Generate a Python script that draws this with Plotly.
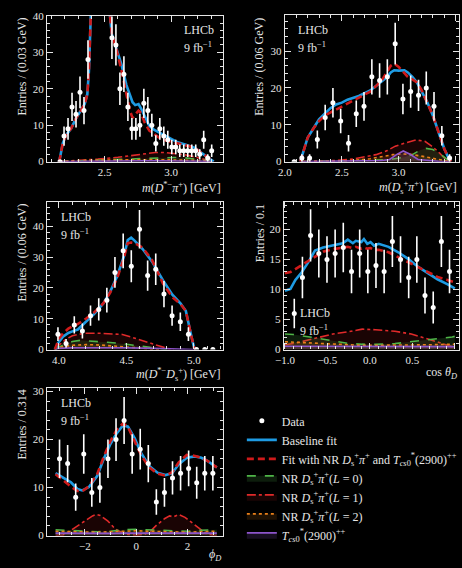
import numpy as np
import plotly.graph_objects as go

W, H = 462, 568
FONT = "Liberation Serif"
FG = "#e6e6e6"

# ---------------- Panel 1: m(D*- pi+) ----------------
p1_bins = [2.165, 2.195, 2.225, 2.255, 2.285, 2.315, 2.345, 2.375, 2.405, 2.435, 2.465, 2.495, 2.525,
           2.555, 2.585, 2.615, 2.645, 2.675, 2.705, 2.735, 2.765, 2.795, 2.825, 2.855, 2.885, 2.915,
           2.945, 2.975, 3.005, 3.035, 3.065, 3.095, 3.125, 3.155, 3.185, 3.215, 3.245, 3.275, 3.305]
p1_data = [0, 7, 9, 15, 13, 19, 14, 28, 48, 75, 95, 70, 50,
           34, 32, 20, 24, 15, 9, 9, 10, 16, 14, 10, 5, 9,
           7, 6, 4, 4, 3, 3, 3, 3, 3, 2, 6, 1, 3]
p1_fit_x = [2.155, 2.162, 2.186, 2.211, 2.248, 2.284, 2.321, 2.35, 2.37, 2.382, 2.395, 2.42, 2.45, 2.48,
            2.51, 2.535, 2.554, 2.591, 2.627, 2.664, 2.69, 2.71, 2.73, 2.755, 2.775, 2.80, 2.836, 2.87,
            2.909, 2.96, 3.007, 3.05, 3.105, 3.15, 3.179, 3.228, 3.277, 3.30, 3.314, 3.32]
p1_base = [0, 0.6, 5.1, 7.3, 9.1, 11.8, 14.0, 15.8, 18.5, 24.8, 39, 90, 120, 100,
           65, 42, 35, 31, 26.6, 21, 18, 16.3, 15.5, 15.8, 14.5, 12.5, 9.8, 8.8,
           8.0, 7.0, 6.0, 5.3, 4.7, 4.2, 3.8, 2.4, 1.0, 0.5, 0.2, 0]
p1_alt = [0, 0.6, 5.1, 7.3, 9.1, 11.8, 14.0, 15.8, 18.5, 24.8, 39, 90, 120, 100,
          65, 42, 35, 30.5, 25, 19, 14, 12, 12.8, 14, 13.3, 10.8, 8.5, 7.6,
          6.6, 5.8, 5.4, 5.0, 4.6, 4.1, 3.7, 2.4, 1.0, 0.5, 0.2, 0]
p1_comp_x = [2.16, 2.3, 2.45, 2.6, 2.7, 2.8, 2.88, 2.95, 3.02, 3.1, 3.18, 3.25, 3.31]
p1_L0 = [0, 0.2, 0.4, 0.6, 0.8, 1.0, 1.1, 1.15, 1.15, 1.05, 0.8, 0.4, 0]
p1_L1 = [0, 0.3, 0.7, 1.2, 1.7, 2.2, 2.5, 2.5, 2.3, 1.9, 1.3, 0.6, 0]
p1_L2 = [0, 0.3, 0.4, 0.5, 0.5, 0.55, 0.55, 0.5, 0.5, 0.45, 0.35, 0.2, 0]
p1_T = [0, 0.1, 0.15, 0.2, 0.2, 0.25, 0.25, 0.25, 0.2, 0.2, 0.15, 0.1, 0]

# ---------------- Panel 2: m(Ds+ pi+) ----------------
p2_bins = [2.081, 2.149, 2.217, 2.285, 2.354, 2.422, 2.49, 2.559, 2.627, 2.695, 2.764,
           2.832, 2.900, 2.969, 3.037, 3.105, 3.174, 3.242, 3.310, 3.379, 3.447]
p2_data = [0, 1, 1, 6, 12, 16, 11, 5, 13, 15, 23, 22, 23, 32, 17, 19, 18, 20, 15, 7, 1]
p2_fit_x = [2.135, 2.16, 2.2, 2.25, 2.3, 2.35, 2.4, 2.45, 2.5, 2.55, 2.6, 2.65, 2.7, 2.75, 2.8, 2.85,
            2.9, 2.93, 2.96, 3.0, 3.05, 3.08, 3.12, 3.16, 3.2, 3.25, 3.3, 3.35, 3.4, 3.44, 3.46]
p2_base = [0, 2.5, 6.5, 9, 11.5, 13, 14.5, 15.5, 16, 16.8, 17.3, 17.8, 18.6, 19.3, 20.5, 21.8,
           23, 24.2, 24.8, 24.7, 24.8, 24.2, 23, 21.5, 19.3, 16.2, 12.5, 8, 3.5, 0.8, 0]
p2_alt = [0, 2.5, 6.5, 9, 11, 12.5, 13.3, 14, 15, 15.7, 16.5, 17.3, 18, 19, 20.5, 22,
          24.5, 26, 26.6, 25.7, 24, 23, 22.3, 21.5, 19.5, 16.2, 12.5, 8, 3.5, 0.8, 0]
p2_L0_x = [2.15, 2.5, 2.8, 2.95, 3.05, 3.12, 3.18, 3.24, 3.3, 3.36, 3.41, 3.45]
p2_L0 = [0, 0.2, 0.4, 0.7, 1.2, 1.9, 3.0, 3.6, 3.3, 2.2, 1.0, 0]
p2_L1_x = [2.15, 2.3, 2.45, 2.6, 2.7, 2.8, 2.9, 2.97, 3.05, 3.15, 3.23, 3.3, 3.36, 3.41, 3.45]
p2_L1 = [0, 0.1, 0.3, 0.7, 1.2, 1.9, 3.0, 4.2, 5.0, 5.9, 5.5, 4.0, 2.3, 0.7, 0]
p2_L2_x = [2.15, 2.4, 2.6, 2.75, 2.86, 2.95, 3.03, 3.1, 3.2, 3.3, 3.35, 3.4, 3.45]
p2_L2 = [0, 0.1, 0.3, 0.8, 1.5, 1.9, 2.1, 2.0, 1.5, 0.9, 0.6, 0.2, 0]
p2_T_x = [2.15, 2.6, 2.85, 2.92, 2.98, 3.04, 3.1, 3.17, 3.25, 3.35, 3.45]
p2_T = [0, 0.1, 0.3, 0.6, 1.9, 2.9, 2.0, 0.6, 0.3, 0.1, 0]

# ---------------- Panel 3: m(D*- Ds+) ----------------
p3_bins = [3.993, 4.053, 4.114, 4.174, 4.234, 4.295, 4.355, 4.415, 4.476, 4.536,
           4.597, 4.657, 4.717, 4.778, 4.838, 4.899, 4.959, 5.019, 5.08, 5.14]
p3_data = [5, 2, 8, 6, 11, 13, 16, 25, 32, 27, 39, 24, 26, 18, 11, 9, 5, 0, 0, 0]
p3_fit_x = [3.97, 3.985, 4.0, 4.03, 4.07, 4.1, 4.14, 4.2, 4.26, 4.33, 4.38, 4.43, 4.48, 4.51, 4.535,
            4.56, 4.62, 4.69, 4.77, 4.84, 4.9, 4.94, 4.96, 4.98, 5.0, 5.01]
p3_base = [0, 1.2, 2.5, 4.2, 5.4, 5.9, 6.5, 9, 11.5, 15, 18.8, 23.6, 30, 35.5, 36.3,
           35.3, 32.6, 28.5, 22.5, 17.8, 15, 12.5, 9, 4.5, 0.8, 0]
p3_alt = [0, 1.8, 3.5, 5.2, 6.8, 7.5, 8.3, 10, 12, 15, 18.5, 23, 29.5, 34.5, 34.7,
          34.5, 33, 29, 21.5, 17, 14.8, 12.5, 9, 4.5, 0.8, 0]
p3_L0_x = [3.97, 4.0, 4.05, 4.1, 4.16, 4.25, 4.35, 4.45, 4.57, 4.65, 4.72, 4.8]
p3_L0 = [0, 0.8, 1.8, 2.6, 3.0, 2.8, 2.4, 2.0, 1.4, 0.9, 0.5, 0]
p3_L1_x = [3.97, 4.0, 4.05, 4.1, 4.15, 4.2, 4.3, 4.4, 4.47, 4.54, 4.6, 4.69, 4.75, 4.8, 4.85]
p3_L1 = [0, 1.4, 3.3, 4.5, 5.0, 5.3, 5.3, 5.2, 4.9, 4.0, 3.2, 1.8, 1.0, 0.4, 0]
p3_L2_x = [3.97, 4.0, 4.1, 4.2, 4.3, 4.45, 4.6, 4.7, 4.75]
p3_L2 = [0, 0.7, 1.4, 1.6, 1.5, 1.1, 0.5, 0.15, 0]
p3_T_x = [3.97, 4.0, 4.1, 4.3, 4.5, 4.7, 4.9, 5.0]
p3_T = [0, 0.4, 0.6, 0.7, 0.6, 0.4, 0.2, 0]

# ---------------- Panel 4: cos theta_D ----------------
p4_bins = [-0.89, -0.794, -0.698, -0.601, -0.505, -0.409, -0.313, -0.216, -0.12, -0.024,
           0.072, 0.168, 0.265, 0.361, 0.457, 0.553, 0.649, 0.746, 0.842, 0.938]
p4_data = [6, 12, 19, 16, 15, 16, 17, 13, 16, 13, 14, 13, 18, 15, 12, 15, 9, 7, 18, 13]
p4_fit_x = [-1.0, -0.935, -0.877, -0.8, -0.723, -0.646, -0.55, -0.435, -0.32, -0.26, -0.2, -0.165,
            -0.1, -0.07, -0.03, 0.008, 0.05, 0.104, 0.22, 0.335, 0.45, 0.565, 0.68, 0.796, 0.91, 0.98, 1.0]
p4_base = [9.8, 10.1, 11.6, 12.9, 14.6, 16.5, 17.0, 17.4, 17.7, 18.3, 17.7, 18.1,
           17.9, 18.4, 17.6, 17.9, 17.3, 17.6, 17.1, 16.2, 15.1, 13.8, 12.7, 11.7, 10.9, 10.3, 10.2]
p4_alt = [12.7, 12.9, 13.4, 14.1, 14.8, 15.5, 16.3, 16.7, 17.0, 17.1, 16.9, 17.1,
          16.8, 17.0, 16.8, 16.9, 16.6, 16.6, 16.2, 15.4, 14.6, 13.8, 12.9, 12.1, 11.6, 11.3, 11.2]
p4_comp_x = [-1.0, -0.9, -0.665, -0.435, -0.24, -0.09, 0.065, 0.295, 0.488, 0.68, 0.834, 0.97, 1.0]
p4_L0 = [2.6, 2.5, 2.0, 1.4, 1.0, 0.9, 0.87, 1.0, 1.3, 1.6, 1.8, 2.1, 2.2]
p4_L1 = [0.8, 1.0, 1.8, 2.6, 3.0, 3.4, 3.3, 3.05, 2.6, 1.8, 1.1, 0.45, 0.4]
p4_L2 = [1.3, 1.25, 1.1, 0.95, 0.8, 0.7, 0.7, 0.72, 0.75, 0.8, 0.85, 0.9, 0.9]
p4_T = [0.55, 0.55, 0.5, 0.5, 0.5, 0.5, 0.5, 0.5, 0.5, 0.5, 0.5, 0.5, 0.5]

# ---------------- Panel 5: phi_D ----------------
p5_bins = [-2.985, -2.670, -2.356, -2.042, -1.728, -1.414, -1.100, -0.785, -0.471, -0.157,
           0.157, 0.471, 0.785, 1.100, 1.414, 1.728, 2.042, 2.356, 2.670, 2.985]
p5_data = [16, 15, 8, 17, 9, 10, 16, 20, 24, 17, 18, 15, 7, 9, 12, 13, 14, 11, 13, 13]
p5_fit_x = [-3.14, -2.86, -2.54, -2.29, -2.1, -1.84, -1.52, -1.27, -1.02, -0.76, -0.51, -0.32,
            -0.06, 0.19, 0.51, 0.83, 1.14, 1.4, 1.65, 1.97, 2.29, 2.54, 2.79, 3.05, 3.14]
p5_base = [13.0, 12.1, 11.1, 9.7, 9.4, 10.1, 12.4, 15.9, 18.9, 21.3, 23.0, 22.7,
           20.3, 17.2, 14.5, 13.1, 12.6, 13.0, 14.8, 16.2, 16.5, 16.2, 15.5, 14.5, 14.2]
p5_alt = [12.8, 11.5, 10.2, 9.3, 9.2, 10.3, 12.8, 16.3, 19.5, 22.0, 23.4, 22.6,
          19.8, 16.8, 14.2, 12.9, 12.5, 13.2, 15.2, 16.8, 16.6, 16.2, 15.5, 14.6, 14.2]
p5_L1_x = [-3.14, -2.85, -2.6, -2.4, -2.0, -1.7, -1.55, -1.4, -1.1, -0.8, -0.5, -0.3, 0.0, 0.3,
           0.55, 0.8, 1.1, 1.3, 1.45, 1.65, 1.9, 2.2, 2.5, 2.75, 3.0, 3.14]
p5_L1 = [0, 0.1, 0.9, 1.6, 3.0, 4.1, 4.4, 4.2, 3.0, 1.3, 0.5, 0.2, 0.05, 0.2,
         0.9, 2.2, 3.5, 4.1, 3.9, 4.4, 3.8, 2.5, 1.2, 0.3, 0.05, 0]
p5_comp_x = [-3.14, -2.5, -2.0, -1.5, -1.0, -0.5, 0.0, 0.5, 1.0, 1.5, 2.0, 2.5, 3.14]
p5_L0 = [1.2, 1.0, 0.9, 0.8, 0.9, 1.2, 1.3, 1.2, 1.0, 0.9, 0.9, 1.1, 1.2]
p5_L2 = [0.9, 0.8, 0.7, 0.7, 0.8, 0.9, 1.0, 0.9, 0.8, 0.7, 0.7, 0.8, 0.9]
p5_T = [0.5, 0.45, 0.4, 0.4, 0.45, 0.5, 0.5, 0.5, 0.45, 0.4, 0.4, 0.45, 0.5]

# ---------------- styling ----------------
C_BLUE = "#1e9be3"
C_RED = "#cf1a1a"
C_L0 = "#4fb548"
C_L1 = "#e02a2a"
C_L2 = "#e9801a"
C_T = "#8e55cc"

NAMES = {
    "data": "Data",
    "base": "Baseline fit",
    "alt": "Fit with NR <i>D</i><sub>s</sub><sup>+</sup><i>π</i><sup>+</sup> and <i>T</i><sub><i>cs</i>0</sub><sup>*</sup>(2900)<sup>++</sup>",
    "L0": "NR <i>D</i><sub>s</sub><sup>+</sup><i>π</i><sup>+</sup>(<i>L</i> = 0)",
    "L1": "NR <i>D</i><sub>s</sub><sup>+</sup><i>π</i><sup>+</sup>(<i>L</i> = 1)",
    "L2": "NR <i>D</i><sub>s</sub><sup>+</sup><i>π</i><sup>+</sup>(<i>L</i> = 2)",
    "T": "<i>T</i><sub><i>cs</i>0</sub><sup>*</sup>(2900)<sup>++</sup>",
}
RANK = {"data": 1, "base": 2, "alt": 3, "L0": 4, "L1": 5, "L2": 6, "T": 7}

fig = go.Figure()


def comp(ax, x, y, key, color, fillc, dash, width, first):
    fig.add_trace(go.Scatter(
        x=x, y=y, mode="lines", fill="tozeroy", fillcolor=fillc,
        line=dict(color=color, width=width, dash=dash),
        name=NAMES[key], legendgroup=key, legendrank=RANK[key], showlegend=first,
        xaxis="x" + ax, yaxis="y" + ax, hoverinfo="skip"))


def panel(ax, bins, data, fit_x, base, alt, comps, first=False):
    for (cx, cy, key, color, fillc, dash) in comps:
        comp(ax, cx, cy, key, color, fillc, dash, 1.6, first)
    fig.add_trace(go.Scatter(
        x=fit_x, y=base, mode="lines", line=dict(color=C_BLUE, width=2.6),
        name=NAMES["base"], legendgroup="base", legendrank=RANK["base"], showlegend=first,
        xaxis="x" + ax, yaxis="y" + ax))
    fig.add_trace(go.Scatter(
        x=fit_x, y=alt, mode="lines", line=dict(color=C_RED, width=2.6, dash="7px,4px"),
        name=NAMES["alt"], legendgroup="alt", legendrank=RANK["alt"], showlegend=first,
        xaxis="x" + ax, yaxis="y" + ax))
    d = np.array(data, dtype=float)
    fig.add_trace(go.Scatter(
        x=bins, y=d, mode="markers",
        marker=dict(color="white", size=5),
        error_y=dict(type="data", array=np.sqrt(d), color="white", thickness=1.6, width=0),
        name=NAMES["data"], legendgroup="data", legendrank=RANK["data"], showlegend=first,
        xaxis="x" + ax, yaxis="y" + ax, cliponaxis=True))


F0 = "rgba(79,181,72,0.16)"
F1 = "rgba(200,30,30,0.13)"
F2 = "rgba(233,128,26,0.13)"
FT = "rgba(142,85,204,0.16)"

panel("", p1_bins, p1_data, p1_fit_x, p1_base, p1_alt, [
    (p1_comp_x, p1_L1, "L1", C_L1, F1, "dashdot"),
    (p1_comp_x, p1_L0, "L0", C_L0, F0, "dash"),
    (p1_comp_x, p1_L2, "L2", C_L2, F2, "dot"),
    (p1_comp_x, p1_T, "T", C_T, FT, "solid")], first=True)
panel("2", p2_bins, p2_data, p2_fit_x, p2_base, p2_alt, [
    (p2_L1_x, p2_L1, "L1", C_L1, F1, "dashdot"),
    (p2_L0_x, p2_L0, "L0", C_L0, F0, "dash"),
    (p2_L2_x, p2_L2, "L2", C_L2, F2, "dot"),
    (p2_T_x, p2_T, "T", C_T, FT, "solid")])
panel("3", p3_bins, p3_data, p3_fit_x, p3_base, p3_alt, [
    (p3_L1_x, p3_L1, "L1", C_L1, F1, "dashdot"),
    (p3_L0_x, p3_L0, "L0", C_L0, F0, "dash"),
    (p3_L2_x, p3_L2, "L2", C_L2, F2, "dot"),
    (p3_T_x, p3_T, "T", C_T, FT, "solid")])
panel("4", p4_bins, p4_data, p4_fit_x, p4_base, p4_alt, [
    (p4_comp_x, p4_L1, "L1", C_L1, F1, "dashdot"),
    (p4_comp_x, p4_L0, "L0", C_L0, F0, "dash"),
    (p4_comp_x, p4_L2, "L2", C_L2, F2, "dot"),
    (p4_comp_x, p4_T, "T", C_T, FT, "solid")])
panel("5", p5_bins, p5_data, p5_fit_x, p5_base, p5_alt, [
    (p5_L1_x, p5_L1, "L1", C_L1, F1, "dashdot"),
    (p5_comp_x, p5_L0, "L0", C_L0, F0, "dash"),
    (p5_comp_x, p5_L2, "L2", C_L2, F2, "dot"),
    (p5_comp_x, p5_T, "T", C_T, FT, "solid")])


def dom_x(a, b):
    return [a / W, b / W]


def dom_y(top, bottom):
    return [1 - bottom / H, 1 - top / H]


def axis(domain, rng, dtick, mdtick, anchor, fmt=""):
    return dict(domain=domain, range=rng, anchor=anchor, dtick=dtick, tickformat=fmt,
                showgrid=False, zeroline=False, showline=True, linecolor=FG, linewidth=1.2,
                mirror="allticks", ticks="inside", ticklen=6, tickwidth=1, tickcolor=FG,
                tickfont=dict(family=FONT, size=11, color=FG),
                minor=dict(ticks="inside", dtick=mdtick, ticklen=3, tickcolor=FG, tickwidth=1,
                           showgrid=False))


P = {
    "": dict(x=(39, 219), y=(10, 159), xr=[2.068, 3.392], yr=[0, 40], xd=0.5, xm=0.1, yd=10, ym=2, f=".1f"),
    "2": dict(x=(282, 460), y=(9.5, 159), xr=[2.0, 3.53], yr=[0, 39.7], xd=0.5, xm=0.1, yd=10, ym=2, f=".1f"),
    "3": dict(x=(39, 219), y=(200, 351), xr=[3.913, 5.217], yr=[0, 47.9], xd=0.5, xm=0.1, yd=10, ym=2, f=".1f"),
    "4": dict(x=(281, 460), y=(200, 351), xr=[-1.012, 1.05], yr=[0, 24.6], xd=0.5, xm=0.1, yd=5, ym=1, f=".1f"),
    "5": dict(x=(39, 219), y=(390, 541), xr=[-3.467, 3.39], yr=[0, 30.8], xd=2, xm=0.5, yd=10, ym=2, f=""),
}

layout = dict(
    width=W, height=H, paper_bgcolor="black", plot_bgcolor="black",
    margin=dict(l=0, r=0, t=0, b=0), showlegend=True,
    legend=dict(x=238 / W, y=1 - 409 / H, xanchor="left", yanchor="top",
                bgcolor="rgba(0,0,0,0)", font=dict(family=FONT, size=12, color=FG),
                tracegroupgap=0, itemwidth=30),
    font=dict(family=FONT, color=FG),
)
for k, p in P.items():
    layout["xaxis" + k] = axis(dom_x(*p["x"]), p["xr"], p["xd"], p["xm"], "y" + k, p["f"])
    layout["yaxis" + k] = axis(dom_y(*p["y"]), p["yr"], p["yd"], p["ym"], "x" + k)
fig.update_layout(**layout)

ann = []


def txt(x, y, s, xanchor="left", size=11, angle=0, yanchor="middle"):
    ann.append(dict(x=x / W, y=1 - y / H, xref="paper", yref="paper", text=s, showarrow=False,
                    xanchor=xanchor, yanchor=yanchor, textangle=angle,
                    font=dict(family=FONT, size=size, color=FG)))


LUMI = "9 fb<sup>−1</sup>"
for (lx, ly) in [(177, 25), (293, 25), (51, 216), (295, 314), (51, 406)]:
    txt(lx, ly, "LHCb", size=12)
    txt(lx, ly + 17, LUMI, size=12)

# y-axis titles (top aligned)
txt(13, 10, "Entries / (0.03 GeV)", xanchor="center", angle=-90, yanchor="top", size=12)
txt(256, 9.5, "Entries / (0.06 GeV)", xanchor="center", angle=-90, yanchor="top", size=12)
txt(13, 200, "Entries / (0.06 GeV)", xanchor="center", angle=-90, yanchor="top", size=12)
txt(256, 200, "Entries / 0.1", xanchor="center", angle=-90, yanchor="top", size=12)
txt(13, 390, "Entries / 0.314", xanchor="center", angle=-90, yanchor="top", size=12)

# x-axis titles (right aligned)
txt(219, 185, "<i>m</i>(<i>D</i><sup>*−</sup><i>π</i><sup>+</sup>) [GeV]", xanchor="right", size=12)
txt(460, 185, "<i>m</i>(<i>D</i><sub>s</sub><sup>+</sup><i>π</i><sup>+</sup>) [GeV]", xanchor="right", size=12)
txt(219, 376, "<i>m</i>(<i>D</i><sup>*−</sup><i>D</i><sub>s</sub><sup>+</sup>) [GeV]", xanchor="right", size=12)
txt(460, 375, "cos <i>θ</i><sub><i>D</i></sub>", xanchor="right", size=12)
txt(219, 561, "<i>ϕ</i><sub><i>D</i></sub>", xanchor="right", size=12)

fig.update_layout(annotations=ann)
fig.write_html("out.html", config={"displayModeBar": False},
               post_script="document.body.style.margin='0';document.body.style.overflow='hidden';")
